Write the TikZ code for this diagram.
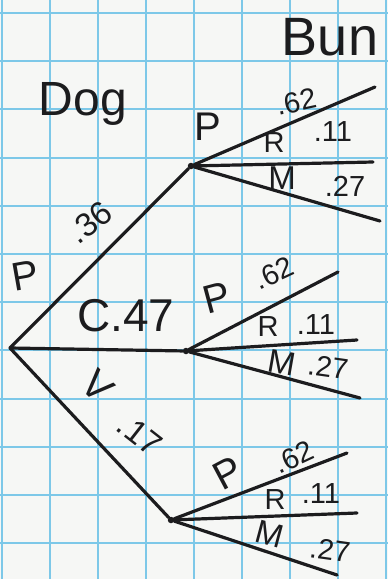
\documentclass[tikz,border=0pt]{standalone}
\usepackage{fontspec}
\setmainfont{Liberation Sans}
\definecolor{gridblue}{RGB}{125,200,232}
\definecolor{paper}{RGB}{246,247,245}
\definecolor{ink}{RGB}{28,28,30}

\begin{document}
\begin{tikzpicture}[x=1pt,y=-1pt,
    ast/.style={ink, line width=3.2pt, line cap=round},
    big/.style={ink, inner sep=0pt, font=\fontsize{40}{42}\selectfont},
    lbl/.style={ink, inner sep=0pt, font=\fontsize{29}{31}\selectfont},
    head/.style={ink, inner sep=0pt, anchor=base, font=\fontsize{54}{56}\selectfont},
    knot/.style={circle, fill=ink, inner sep=0pt, minimum size=6.5pt}]
    % Papier mit Gitter:
    \fill[paper] (0,0) rectangle (388,579);
    \useasboundingbox (0,0) rectangle (388,579);
    \foreach \y in {13,61.2,...,579} \draw[gridblue, line width=2pt] (0,\y) -- (388,\y);
    \foreach \x in {2,50,...,388} \draw[gridblue, line width=2pt] (\x,0) -- (\x,579);
    % Ueberschriften:
    \node[head] (bun) at (330,55) {Bun};
    \node[head, font=\fontsize{48}{50}\selectfont] (dog) at (83,115) {Dog};
    % Wurzel und erste Stufe:
    \coordinate (root) at (10,348);
    \node[knot] (dogP) at (191,166) {};
    \node[knot] (dogC) at (186,351) {};
    \node[knot] (dogV) at (171,520) {};
    \draw[ast] (root) -- (dogP); % P
    \draw[ast] (root) -- (dogC); % C
    \draw[ast] (root) -- (dogV); % V
    % zweite Stufe, oben:
    \coordinate (pP) at (375,87);
    \coordinate (pR) at (373,162);
    \coordinate (pM) at (380,221);
    \draw[ast] (dogP) -- (pP);
    \draw[ast] (dogP) -- (pR);
    \draw[ast] (dogP) -- (pM);
    % zweite Stufe, Mitte:
    \coordinate (cP) at (338,272);
    \coordinate (cR) at (357,340);
    \coordinate (cM) at (360,398);
    \draw[ast] (dogC) -- (cP);
    \draw[ast] (dogC) -- (cR);
    \draw[ast] (dogC) -- (cM);
    % zweite Stufe, unten:
    \coordinate (vP) at (347,453);
    \coordinate (vR) at (357,513);
    \coordinate (vM) at (337,575);
    \draw[ast] (dogV) -- (vP);
    \draw[ast] (dogV) -- (vR);
    \draw[ast] (dogV) -- (vM);
    % Beschriftung erste Stufe:
    \node[big, rotate=10] (lP) at (25,276) {P};
    \node[lbl, rotate=38, font=\fontsize{33}{35}\selectfont] (lPv) at (90,222) {.36};
    \node[big, font=\fontsize{46}{48}\selectfont] (lC) at (126,316) {C.47};
    \node[big, rotate=-45] (lV) at (98,386) {V};
    \node[lbl, rotate=-38, font=\fontsize{33}{35}\selectfont] (lVv) at (140,435) {.17};
    % Beschriftung oben:
    \node[big] (pPl) at (208,127) {P};
    \node[lbl, rotate=12] (pPv) at (296,102) {.62};
    \node[lbl] (pRl) at (274,143) {R};
    \node[lbl] (pRv) at (333,132) {.11};
    \node[lbl, font=\fontsize{33}{35}\selectfont] (pMl) at (282,178) {M};
    \node[lbl] (pMv) at (345,186) {.27};
    % Beschriftung Mitte:
    \node[big, rotate=15] (cPl) at (217,298) {P};
    \node[lbl, rotate=25] (cPv) at (274,273) {.62};
    \node[lbl] (cRl) at (268,327) {R};
    \node[lbl] (cRv) at (316,325) {.11};
    \node[lbl, rotate=-10, font=\fontsize{33}{35}\selectfont] (cMl) at (282,363) {M};
    \node[lbl, rotate=-8] (cMv) at (328,367) {.27};
    % Beschriftung unten:
    \node[big, rotate=28] (vPl) at (228,473) {P};
    \node[lbl, rotate=25] (vPv) at (294,457) {.62};
    \node[lbl] (vRl) at (275,500) {R};
    \node[lbl] (vRv) at (321,494) {.11};
    \node[lbl, rotate=-15, font=\fontsize{33}{35}\selectfont] (vMl) at (270,534) {M};
    \node[lbl, rotate=-8] (vMv) at (330,550) {.27};
\end{tikzpicture}
\end{document}
